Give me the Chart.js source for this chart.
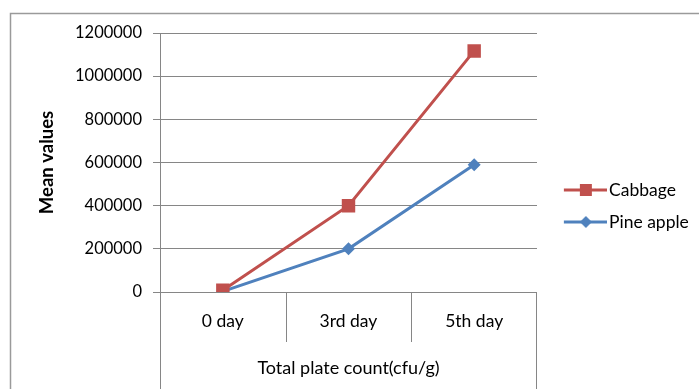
<!DOCTYPE html>
<html><head><meta charset="utf-8">
<script src="https://cdn.jsdelivr.net/npm/chart.js@4/dist/chart.umd.min.js"></script>
<style>html,body{margin:0;padding:0;background:#fff;overflow:hidden}</style>
</head><body>
<canvas id="c" width="699" height="389"></canvas>
<script>
const categories = ['0 day', '3rd day', '5th day'];
const cabbage = [8000, 400000, 1117000];
const pineApple = [3000, 200000, 590000];
const yMin = 0, yMax = 1200000, yStep = 200000;
const seriesNames = ['Cabbage', 'Pine apple'];
const xTitle = 'Total plate count(cfu/g)';
const yTitle = 'Mean values';

const RED = '#C0504D', BLUE = '#4F81BD', GRID = '#868686';
const FONT = 'Lato';

function makeIcon(color, kind) {
  const cv = document.createElement('canvas');
  cv.width = 62; cv.height = 16;
  const g = cv.getContext('2d');
  g.strokeStyle = color; g.lineWidth = 3;
  g.beginPath(); g.moveTo(19, 8); g.lineTo(62, 8); g.stroke();
  g.fillStyle = color;
  if (kind === 'rect') { g.fillRect(41 - 6, 8 - 6, 12, 12); }
  else { g.beginPath(); g.moveTo(41 - 6, 8); g.lineTo(41, 2); g.lineTo(41 + 6, 8); g.lineTo(41, 14); g.closePath(); g.fill(); }
  return cv;
}
const icons = [makeIcon(RED, 'rect'), makeIcon(BLUE, 'diamond')];

const legendWidth = {
  id: 'legendWidth',
  beforeLayout(chart) {
    const lg = chart.legend;
    if (lg && !lg._fixedFit) {
      const f = lg.fit.bind(lg);
      lg.fit = function () { f(); this.width = 162; };
      lg._fixedFit = true;
    }
  }
};

const decor = {
  id: 'decor',
  beforeDraw(chart) {
    const ctx = chart.ctx;
    ctx.save();
    ctx.fillStyle = '#fff';
    ctx.fillRect(0, 0, chart.width, chart.height);
    ctx.strokeStyle = '#9a9a9a'; ctx.lineWidth = 1.5;
    ctx.beginPath();
    ctx.moveTo(10.5, chart.height); ctx.lineTo(10.5, 13.5); ctx.lineTo(chart.width, 13.5);
    ctx.stroke();
    ctx.restore();
  },
  afterDraw(chart) {
    const ctx = chart.ctx, a = chart.chartArea, x = chart.scales.x;
    ctx.save();
    ctx.strokeStyle = GRID; ctx.lineWidth = 1;
    ctx.beginPath();
    ctx.moveTo(Math.round(a.left) + 0.5, a.top); ctx.lineTo(Math.round(a.left) + 0.5, chart.height);
    ctx.moveTo(Math.round(a.right) - 0.5, a.bottom); ctx.lineTo(Math.round(a.right) - 0.5, chart.height);
    for (let i = 0; i < categories.length - 1; i++) {
      const px = Math.round((x.getPixelForValue(i) + x.getPixelForValue(i + 1)) / 2) + 0.5;
      ctx.moveTo(px, a.bottom); ctx.lineTo(px, a.bottom + 50);
    }
    ctx.stroke();
    ctx.restore();
  }
};

new Chart(document.getElementById('c'), {
  type: 'line',
  data: {
    labels: categories,
    datasets: [
      { label: seriesNames[0], data: cabbage, borderColor: RED, backgroundColor: RED, borderWidth: 3,
        pointStyle: 'rect', pointRadius: 9.5, pointHoverRadius: 9.5, pointBorderWidth: 0, tension: 0 },
      { label: seriesNames[1], data: pineApple, borderColor: BLUE, backgroundColor: BLUE, borderWidth: 3,
        pointStyle: 'rectRot', pointRadius: 6.5, pointHoverRadius: 6.5, pointBorderWidth: 0, tension: 0 }
    ]
  },
  options: {
    responsive: false, animation: false, devicePixelRatio: 1,
    layout: { padding: { left: 0, top: 33, right: 0, bottom: 10 } },
    plugins: {
      tooltip: { enabled: false },
      legend: {
        position: 'right', align: 'center',
        labels: {
          usePointStyle: true, pointStyleWidth: 48.75, padding: 14.5, color: '#000',
          font: { family: FONT, size: 17.5 },
          generateLabels(chart) {
            const items = Chart.defaults.plugins.legend.labels.generateLabels(chart);
            items.forEach((it, i) => { it.pointStyle = icons[i]; });
            return items;
          }
        }
      }
    },
    scales: {
      x: {
        offset: true,
        grid: { display: false, drawTicks: false },
        border: { display: false },
        ticks: { color: '#000', font: { family: FONT, size: 17.5 }, padding: 18.5, maxRotation: 0 },
        title: { display: true, text: xTitle, color: '#000', font: { family: FONT, size: 18 }, padding: { top: 0, bottom: 0 } },
        afterFit(s) { s.height = 87; }
      },
      y: {
        min: yMin, max: yMax,
        ticks: { stepSize: yStep, color: '#000', font: { family: FONT, size: 16.5 }, padding: 11,
          callback: v => String(v) },
        grid: { color: GRID, tickLength: 7, tickColor: GRID },
        border: { display: true, color: GRID },
        title: { display: true, text: yTitle, color: '#000', font: { family: FONT, size: 18.5, weight: 'bold' }, padding: { top: 36, bottom: 0 } },
        afterFit(s) { s.width = 160; }
      }
    }
  },
  plugins: [legendWidth, decor]
});
</script>
</body></html>
